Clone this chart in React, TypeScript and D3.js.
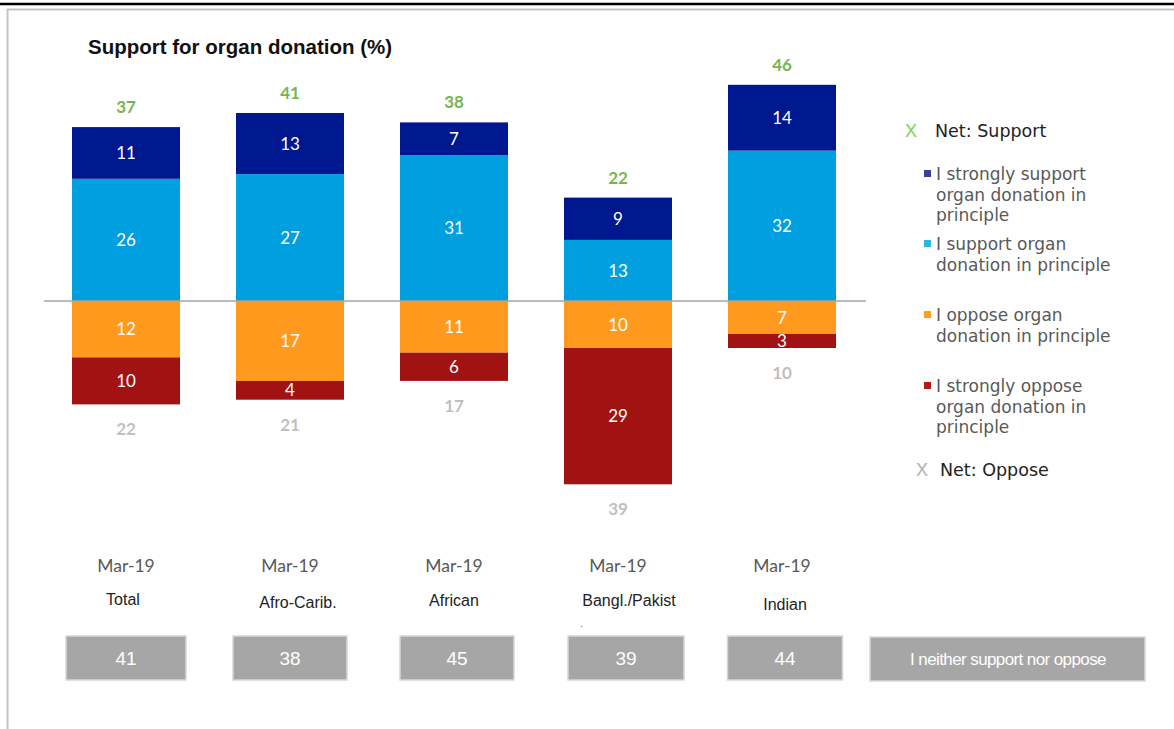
import React from "react";
import * as d3 from "d3";

const categories = ["Total", "Afro-Carib.", "African", "Bangl./Pakist", "Indian"];
const dates = ["Mar-19", "Mar-19", "Mar-19", "Mar-19", "Mar-19"];
const strongSupport = [11, 13, 7, 9, 14];
const support = [26, 27, 31, 13, 32];
const oppose = [12, 17, 11, 10, 7];
const strongOppose = [10, 4, 6, 29, 3];
const netSupport = [37, 41, 38, 22, 46];
const netOppose = [22, 21, 17, 39, 10];
const neither = [41, 38, 45, 39, 44];

const legendItems = [
  { lines: ["I strongly support", "organ donation in", "principle"], color: "#3a3f9e", y: 174 },
  { lines: ["I support organ", "donation in principle"], color: "#2bb6e0", y: 244 },
  { lines: ["I oppose organ", "donation in principle"], color: "#ff9e1b", y: 315 },
  { lines: ["I strongly oppose", "organ donation in", "principle"], color: "#b01c1c", y: 386 },
];

const C = {
  strongSupport: "#00188f",
  support: "#009fdf",
  oppose: "#ff9a1e",
  strongOppose: "#a11313",
  green: "#76b550",
  gray: "#bfbfbf",
};

const nameDx = [-3, 8, 0, 11, 3];
const nameDy = [0, 3, 1, 1, 5];
const boxDx = [0, 0, 3, 8, 3];
const boxW = [120, 114, 114, 116, 115];

export default function App() {
  const x = d3
    .scaleBand<string>()
    .domain(categories)
    .range([44, 864])
    .paddingInner(0.3415)
    .paddingOuter(0.3415 / 2);
  const y = d3.scaleLinear().domain([-50, 50]).range([536, 66]);
  const bw = x.bandwidth();
  const num = "Lato, 'Open Sans', sans-serif";
  const arial = "'Liberation Sans', Arial, sans-serif";
  const leg = "'DejaVu Sans', Verdana, sans-serif";

  return (
    <svg
      width={1174}
      height={729}
      style={{ position: "absolute", left: 0, top: 0, background: "#fff" }}
    >
      {/* frame */}
      <line x1={0} x2={1174} y1={4} y2={4} stroke="#000" strokeWidth={2.5} />
      <line x1={7} x2={1174} y1={9.5} y2={9.5} stroke="#c4c4c4" strokeWidth={2} />
      <line x1={7.5} x2={7.5} y1={9} y2={729} stroke="#c4c4c4" strokeWidth={2} />

      <text x={88} y={54} fontFamily={arial} fontWeight="bold" fontSize={20.5} fill="#111">
        Support for organ donation (%)
      </text>

      {categories.map((c, i) => {
        const x0 = x(c)!;
        const cx = x0 + bw / 2;
        const segs = [
          { v0: 0, v1: support[i], col: C.support, lab: support[i] },
          { v0: support[i], v1: support[i] + strongSupport[i], col: C.strongSupport, lab: strongSupport[i] },
          { v0: -oppose[i], v1: 0, col: C.oppose, lab: oppose[i] },
          { v0: -oppose[i] - strongOppose[i], v1: -oppose[i], col: C.strongOppose, lab: strongOppose[i] },
        ];
        const top = y(support[i] + strongSupport[i]);
        const bot = y(-oppose[i] - strongOppose[i]);
        return (
          <g key={c}>
            {segs.map((s, j) => {
              const y1 = y(s.v1);
              const y0 = y(s.v0);
              return (
                <g key={j}>
                  <rect x={x0} y={y1} width={bw} height={y0 - y1} fill={s.col} />
                  <text
                    x={cx}
                    y={(y0 + y1) / 2}
                    dy="0.36em"
                    textAnchor="middle"
                    fontFamily={num}
                    fontSize={17}
                    fill="#fff"
                  >
                    {s.lab}
                  </text>
                </g>
              );
            })}
            <text x={cx} y={top - 14} textAnchor="middle" fontFamily={num} fontWeight="bold" fontSize={17} fill={C.green}>
              {netSupport[i]}
            </text>
            <text x={cx} y={bot + 31} textAnchor="middle" fontFamily={num} fontWeight="bold" fontSize={17} fill={C.gray}>
              {netOppose[i]}
            </text>
            <text x={cx} y={572} textAnchor="middle" fontFamily={num} fontSize={17.5} fill="#595959">
              {dates[i]}
            </text>
            <text x={cx + nameDx[i]} y={605 + nameDy[i]} textAnchor="middle" fontFamily={arial} fontSize={16} fill="#222">
              {c}
            </text>
            <rect
              x={cx + boxDx[i] - boxW[i] / 2}
              y={636}
              width={boxW[i]}
              height={44}
              fill="#a6a6a6"
              stroke="#d6d6d6"
              strokeWidth={1.5}
            />
            <text
              x={cx + boxDx[i]}
              y={658}
              dy="0.36em"
              textAnchor="middle"
              fontFamily={arial}
              fontSize={19}
              fill="#fff"
            >
              {neither[i]}
            </text>
          </g>
        );
      })}
      <text x={580} y={627} fontFamily={arial} fontSize={10} fill="#666">.</text>

      <line x1={44} x2={866} y1={y(0)} y2={y(0)} stroke="#a6a6a6" strokeWidth={1.5} />

      {/* neither legend box */}
      <rect x={870} y={637} width={275} height={44} fill="#a6a6a6" stroke="#d6d6d6" strokeWidth={1.5} />
      <text x={1008} y={659} dy="0.36em" textAnchor="middle" fontFamily={arial} fontSize={17} fill="#fff" letterSpacing={-0.6}>
        I neither support nor oppose
      </text>

      {/* legend */}
      <text x={911} y={131} dy="0.36em" textAnchor="middle" fontFamily={arial} fontSize={18} fill="#7fd04a">X</text>
      <text x={935} y={131} dy="0.36em" fontFamily={leg} fontSize={17.5} fill="#222">Net: Support</text>
      {legendItems.map((it) => (
        <g key={it.lines[0]}>
          <rect x={924} y={it.y - 4} width={7} height={7} fill={it.color} />
          {it.lines.map((l, k) => (
            <text key={k} x={936} y={it.y + k * 20.5} dy="0.36em" fontFamily={leg} fontSize={17} fill="#595959">
              {l}
            </text>
          ))}
        </g>
      ))}
      <text x={922} y={470} dy="0.36em" textAnchor="middle" fontFamily={arial} fontSize={18} fill="#b0b0b0">X</text>
      <text x={940} y={470} dy="0.36em" fontFamily={leg} fontSize={17.5} fill="#222">Net: Oppose</text>
    </svg>
  );
}
